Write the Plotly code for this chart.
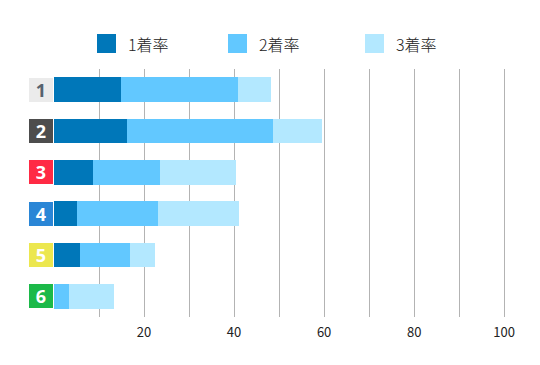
import plotly.graph_objects as go

categories = ["1", "2", "3", "4", "5", "6"]
first_rate = [14.8, 16.2, 8.6, 5.0, 5.7, 0.0]      # 1着率
second_add = [26.0, 32.4, 14.9, 18.0, 11.1, 3.3]   # 2着率 segment
third_add = [7.4, 10.9, 16.9, 18.0, 5.6, 10.0]     # 3着率 segment
series_names = ["1着率", "2着率", "3着率"]
series_colors = ["#0077b9", "#62c8ff", "#b3e8ff"]
tick_vals = [10, 20, 30, 40, 50, 60, 70, 80, 90, 100]
tick_text = ["", "20", "", "40", "", "60", "", "80", "", "100"]
box_bg = ["#ebebeb", "#4d4d4d", "#ff2a44", "#2a86d6", "#ece74f", "#1cb949"]
box_fg = ["#56626e", "#ffffff", "#ffffff", "#ffffff", "#ffffff", "#ffffff"]

FONT = "Noto Sans CJK JP"

fig = go.Figure()
for name, vals, col in zip(series_names, [first_rate, second_add, third_add], series_colors):
    fig.add_trace(go.Bar(
        y=categories, x=vals, name=name, orientation="h",
        marker=dict(color=col, line=dict(width=0)),
        showlegend=False, hoverinfo="skip",
    ))

# label boxes (category index positions)
for idx, (cat, bg, fg) in enumerate(zip(categories, box_bg, box_fg)):
    fig.add_annotation(
        x=0, y=idx, xref="x", yref="y", xanchor="right", yanchor="middle",
        xshift=-1, text="<b>%s</b>" % cat, showarrow=False,
        width=24, height=24, borderpad=0, borderwidth=0, bgcolor=bg,
        font=dict(family="Open Sans", size=18, color=fg), align="center", valign="middle",
    )

# manual legend
legend_x = [97, 228, 365]
for name, col, lx in zip(series_names, series_colors, legend_x):
    fig.add_shape(type="rect", xref="paper", yref="paper",
                  x0=(lx - 54) / 452, x1=(lx + 19 - 54) / 452,
                  y0=(365 - 48 - 53) / 248, y1=(365 - 48 - 34) / 248,
                  fillcolor=col, line=dict(width=0), layer="above")
    fig.add_annotation(
        x=(lx + 29 - 54) / 452, y=(365 - 48 - 44) / 248, xref="paper", yref="paper",
        xanchor="left", yanchor="middle", showarrow=False, text=name,
        font=dict(family=FONT, size=16, color="#222222", weight=300),
    )

fig.update_layout(
    width=540, height=365,
    margin=dict(l=54, r=34, t=69, b=48),
    barmode="stack", bargap=0.41,
    plot_bgcolor="#ffffff", paper_bgcolor="#ffffff",
    font=dict(family=FONT, color="#222222"),
    showlegend=False,
    xaxis=dict(
        range=[0, 100.4], tickmode="array", tickvals=tick_vals, ticktext=tick_text,
        showgrid=True, gridcolor="#b3b3b3", gridwidth=1, zeroline=False,
        showline=False, ticks="outside", ticklen=3, tickcolor="rgba(0,0,0,0)",
        tickfont=dict(family=FONT, size=13, color="#222222"),
        fixedrange=True,
    ),
    yaxis=dict(
        categoryorder="array", categoryarray=categories, autorange="reversed",
        showticklabels=False, showgrid=False, zeroline=False, showline=False,
        fixedrange=True,
    ),
)

fig.write_html("out.html", config={"displayModeBar": False},
               post_script="document.body.style.margin='0';")
